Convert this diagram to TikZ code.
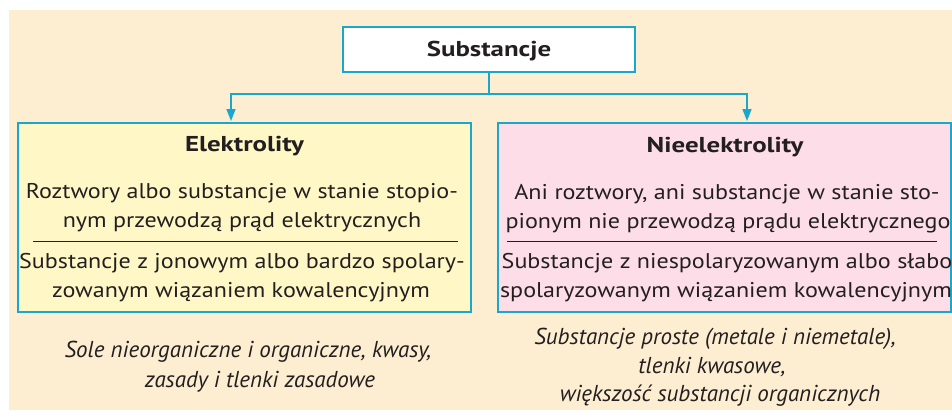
\documentclass[tikz,border=0pt]{standalone}
\usepackage{fontspec}
\setmainfont{PT Sans}
\newfontfamily\bodyfont[FakeStretch=1.13]{PT Sans}
\newfontfamily\ttlfont[FakeStretch=1.25]{PT Sans Bold}
\newfontfamily\itfont{PT Sans Italic}
\usetikzlibrary{arrows.meta}
\definecolor{bgc}{RGB}{253,238,210}
\definecolor{cy}{RGB}{24,168,205}
\definecolor{yel}{RGB}{255,248,198}
\definecolor{pnk}{RGB}{252,221,232}
\definecolor{ink}{RGB}{35,31,32}
\begin{document}
\begin{tikzpicture}[x=1pt,y=-1pt,
  txt/.style={anchor=base, inner sep=0pt, text=ink, font=\bodyfont\fontsize{21.3}{24}\selectfont},
  ttl/.style={txt, font=\ttlfont\fontsize{21.5}{24}\selectfont},
  itl/.style={txt, font=\itfont\fontsize{23}{26}\selectfont},
  bigbox/.style={draw=cy, line width=2pt, inner sep=0pt, minimum width=453pt, minimum height=189pt},
  conn/.style={draw=cy, line width=1.6pt},
  tip/.style={-{Triangle[length=12pt,width=9pt]}, shorten >=1pt},
  sep/.style={draw=ink, line width=0.8pt}]
\useasboundingbox (0,0) rectangle (952,410);
\fill[bgc] (9,10) rectangle (952,410);
% boxes
\node[draw=cy, line width=2pt, fill=white, inner sep=0pt, minimum width=292pt, minimum height=45pt] (sub) at (489,49.5) {};
\node[ttl] (subt) at (489,56) {Substancje};
\node[bigbox, fill=yel] (elek) at (244.5,217.5) {};
\node[bigbox, fill=pnk] (nie) at (724.5,217.5) {};
% connectors
\draw[conn] (sub.south) -- ++(0,21) coordinate (j);
\draw[conn, tip] (j) -| ([xshift=-13.5pt]elek.north);
\draw[conn, tip] (j) -| ([xshift=22.5pt]nie.north);
% left box text
\node[ttl] (et) at (244.5,151) {Elektrolity};
\node[txt] (e1) at (242,198) {Roztwory albo substancje w stanie stopio-};
\node[txt] (e2) at (242,227) {nym przewodzą prąd elektrycznych};
\draw[sep] (33,241) -- (458,241);
\node[txt] (e3) at (242,268) {Substancje z jonowym albo bardzo spolary-};
\node[txt] (e4) at (241,297) {zowanym wiązaniem kowalencyjnym};
% right box text
\node[ttl] (nt) at (725,152) {Nieelektrolity};
\node[txt] (n1) at (727,199) {Ani roztwory, ani substancje w stanie sto-};
\node[txt] (n2) at (728,228) {pionym nie przewodzą prądu elektrycznego};
\draw[sep] (507,241) -- (937,241);
\node[txt] (n3) at (727,268) {Substancje z niespolaryzowanym albo słabo};
\node[txt] (n4) at (726,297) {spolaryzowanym wiązaniem kowalencyjnym};
% examples
\node[itl] (s1) at (248,357) {Sole nieorganiczne i organiczne, kwasy,};
\node[itl] (s2) at (260,387) {zasady i tlenki zasadowe};
\node[itl] (p1) at (715,344) {Substancje proste (metale i niemetale),};
\node[itl] (p2) at (712,373) {tlenki kwasowe,};
\node[itl] (p3) at (720,401) {większość substancji organicznych};
\end{tikzpicture}
\end{document}
